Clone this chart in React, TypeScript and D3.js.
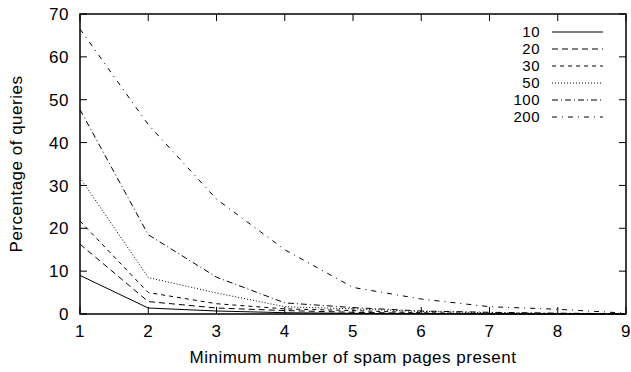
import React from 'react'
import * as d3 from 'd3'

// x: minimum number of spam pages present
const xs = [1, 2, 3, 4, 5, 6, 7, 8, 9]

// one series per result-list depth
const s10 = [9.0, 1.4, 0.7, 0.3, 0.15, 0.05, 0, 0, 0]
const s20 = [16.3, 2.9, 1.4, 0.8, 0.4, 0.15, 0.05, 0, 0]
const s30 = [21.7, 5.0, 2.4, 1.2, 0.8, 0.3, 0.1, 0.05, 0]
const s50 = [31.8, 8.5, 4.9, 1.7, 1.2, 0.6, 0.3, 0.1, 0]
const s100 = [47.7, 18.5, 8.6, 2.6, 1.5, 0.7, 0.4, 0.2, 0.05]
const s200 = [66.5, 44.2, 26.8, 15.0, 6.2, 3.5, 1.7, 1.1, 0.2]

const seriesNames = ['10', '20', '30', '50', '100', '200']
const seriesValues = [s10, s20, s30, s50, s100, s200]
const yTicks = [0, 10, 20, 30, 40, 50, 60, 70]

// gnuplot-ish line types
const dashes = ['none', '6,4', '4,4', '1,2', '6,3,1,3', '5,5,1,5']

const W = 631
const H = 372
const margin = { left: 80, right: 5, top: 14, bottom: 58 }

export default function App() {
    const x = d3.scaleLinear().domain([1, 9]).range([margin.left, W - margin.right])
    const y = d3.scaleLinear().domain([0, 70]).range([H - margin.bottom, margin.top])
    const line = d3.line<number>()
        .x((d, i) => x(xs[i]))
        .y(d => y(d))

    const x0 = x(1), x1 = x(9), y0 = y(0), y1 = y(70)
    const tick = 7
    const font = 'Liberation Sans, Arial, Helvetica, sans-serif'

    return (
        <svg width={W} height={H} style={{ position: 'absolute', left: 0, top: 0, background: '#fff' }}
            fontFamily={font} fontSize={17} letterSpacing={0.5}>
            <rect x={0} y={0} width={W} height={H} fill="#fff" />

            {/* ticks, mirrored like gnuplot */}
            {yTicks.map(t => (
                <g key={'y' + t}>
                    <line x1={x0} x2={x0 + tick} y1={y(t)} y2={y(t)} stroke="#000" />
                    <line x1={x1} x2={x1 - tick} y1={y(t)} y2={y(t)} stroke="#000" />
                    <text x={x0 - 11} y={y(t)} dy="0.36em" textAnchor="end">{t}</text>
                </g>
            ))}
            {xs.map(t => (
                <g key={'x' + t}>
                    <line x1={x(t)} x2={x(t)} y1={y0} y2={y0 - tick} stroke="#000" />
                    <line x1={x(t)} x2={x(t)} y1={y1} y2={y1 + tick} stroke="#000" />
                    <text x={x(t)} y={y0 + 23} textAnchor="middle">{t}</text>
                </g>
            ))}

            {seriesValues.map((vals, i) => (
                <path key={seriesNames[i]} d={line(vals) || ''} fill="none" stroke="#000"
                    strokeWidth={1} strokeDasharray={dashes[i]} />
            ))}

            <rect x={x0} y={y1} width={x1 - x0} height={y0 - y1} fill="none" stroke="#000" strokeWidth={1.5} />

            {/* legend */}
            {seriesNames.map((n, i) => {
                const ly = 32 + i * 17
                return (
                    <g key={'l' + n}>
                        <text x={540} y={ly} dy="0.36em" textAnchor="end" fontSize={15}>{n}</text>
                        <line x1={552} x2={603} y1={ly} y2={ly} stroke="#000" strokeDasharray={dashes[i]} />
                    </g>
                )
            })}

            <text x={(x0 + x1) / 2} y={H - 9} textAnchor="middle">Minimum number of spam pages present</text>
            <text transform={`translate(22,${(y0 + y1) / 2}) rotate(-90)`} textAnchor="middle">Percentage of queries</text>
        </svg>
    )
}
